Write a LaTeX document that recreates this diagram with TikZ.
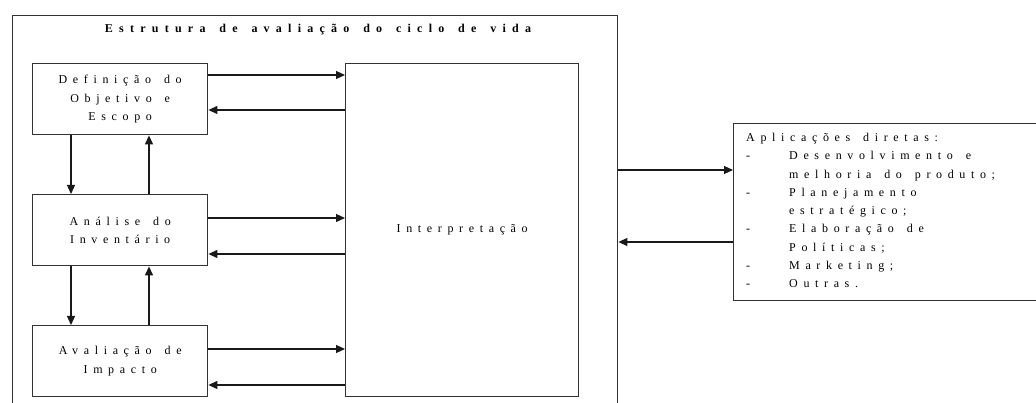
\documentclass[tikz,border=0pt]{standalone}
\usepackage{fontspec}
\setmainfont{Liberation Serif}
\newfontfamily\lsp[LetterSpace=47,WordSpace=1.5]{Liberation Serif}
\newfontfamily\lspt[LetterSpace=52,WordSpace=1.5]{Liberation Serif}
\usetikzlibrary{arrows.meta}
\tikzset{
  boxline/.style={draw=black!80, line width=1.4pt},
  stagebox/.style={boxline, minimum width=175pt, inner sep=0pt, align=center,
     font=\lsp\fontsize{12}{18.5}\selectfont, text=black},
  arr/.style={draw=black!90, line width=1.1pt, -{Triangle[length=9pt,width=8pt]}},
}
\newcommand{\bl}{\makebox[43pt][l]{-}}
\newcommand{\ind}{\hspace*{43pt}}
\begin{document}
\begin{tikzpicture}[x=1pt,y=-1pt]
\path[use as bounding box, clip] (0,0) rectangle (1036,403);
% outer frame
\node[boxline, anchor=north west, minimum width=605pt, minimum height=420pt, inner sep=0pt] (frame) at (12,15) {};
\node[font=\lspt\bfseries\fontsize{12}{13}\selectfont, text=black] (title) at (318,30) {Estrutura de avaliação do ciclo de vida};
% stages
\node[stagebox, anchor=north west, minimum height=71pt] (def) at (32,63) {Definição do\\Objetivo e\\Escopo};
\node[stagebox, anchor=north west, minimum height=71pt] (inv) at (32,194) {Análise do\\Inventário};
\node[stagebox, anchor=north west, minimum height=71pt] (imp) at (32,325) {Avaliação de\\Impacto};
\node[boxline, anchor=north west, minimum width=233pt, minimum height=333pt, inner sep=0pt,
      font=\lsp\fontsize{12}{13}\selectfont, text=black] (int) at (345,63) {Interpretação};
% applications
\node[boxline, anchor=north west, minimum width=330pt, minimum height=177pt, inner sep=0pt] (apl) at (733,123) {};
\node[anchor=north west, inner sep=0pt, align=left, font=\lsp\fontsize{12}{18.25}\selectfont, text=black] (apltext) at (746,133)
  {Aplicações diretas:\\
   \bl Desenvolvimento e\\
   \ind melhoria do produto;\\
   \bl Planejamento\\
   \ind estratégico;\\
   \bl Elaboração de\\
   \ind Políticas;\\
   \bl Marketing;\\
   \bl Outras.};
% horizontal arrows
\draw[arr] (def.east |- 0,75) -- (int.west |- 0,75);
\draw[arr] (int.west |- 0,110) -- (def.east |- 0,110);
\draw[arr] (inv.east |- 0,218) -- (int.west |- 0,218);
\draw[arr] (int.west |- 0,254) -- (inv.east |- 0,254);
\draw[arr] (imp.east |- 0,349) -- (int.west |- 0,349);
\draw[arr] (int.west |- 0,385) -- (imp.east |- 0,385);
% vertical arrows
\draw[arr] (def.south -| 71,0) -- (inv.north -| 71,0);
\draw[arr] (inv.north -| 149,0) -- (def.south -| 149,0);
\draw[arr] (inv.south -| 71,0) -- (imp.north -| 71,0);
\draw[arr] (imp.north -| 149,0) -- (inv.south -| 149,0);
% to applications
\draw[arr] (frame.east |- 0,170) -- (apl.west |- 0,170);
\draw[arr] (apl.west |- 0,242) -- (frame.east |- 0,242);
\end{tikzpicture}
\end{document}
